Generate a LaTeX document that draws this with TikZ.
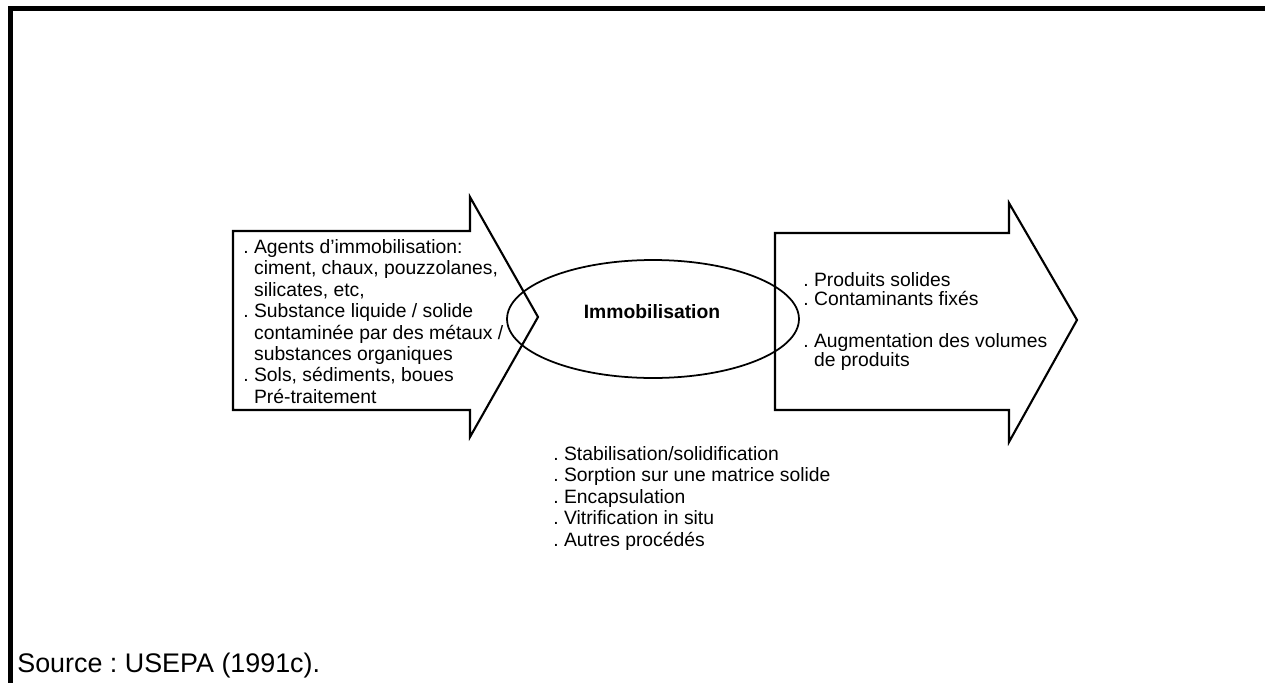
\documentclass[tikz,border=0pt]{standalone}
\usepackage{fontspec}
\setmainfont{Liberation Sans}
\usetikzlibrary{positioning, shapes.geometric, calc}
\frenchspacing

% sangría para las líneas que siguen a un punto
\newcommand{\sangria}{\phantom{.}\ }

\begin{document}
\begin{tikzpicture}[
    % Escala en píxeles (eje y hacia abajo)
    x=0.02cm, y=-0.02cm,
    % Estilo del marco
    marco/.style = {draw, line width=2.6pt},
    % Estilo de las flechas grandes
    bigarrow/.style = {draw, line width=1.2pt, line join=miter},
    % Estilo del proceso central (elipse)
    proceso/.style = {
        ellipse,
        draw,
        line width=1pt,
        minimum width=5.84cm,
        minimum height=2.36cm,
        inner sep=0pt
    },
    % Estilo de las listas de texto
    lista/.style = {
        align=left,
        inner sep=0pt,
        anchor=north west,
        font=\fontsize{11}{12.2}\selectfont
    }
]

    \useasboundingbox (0,0) rectangle (1265,683);

    % --- MARCO ---
    \draw [marco] (10.5,683) -- (10.5,8.5) -- (1265,8.5);

    % --- FLECHAS ---
    % Entrada (izquierda)
    \draw [bigarrow] (233,231) -- (470,231) -- (470,197) -- (538,317)
        -- (470,437) -- (470,410) -- (233,410) -- cycle;
    % Salida (derecha)
    \draw [bigarrow] (775,233) -- (1009,233) -- (1009,203) -- (1077,320)
        -- (1009,442) -- (1009,410) -- (775,410) -- cycle;

    % --- NODOS ---
    % Proceso central
    \node [proceso] (immo) at (653,319) {};
    \node [font=\fontsize{11}{13}\selectfont\bfseries] (titulo) at ($(immo.center)+(-1,-7)$) {Immobilisation};

    % Entradas
    \node [lista] (entradas) at (243,239) {%
        . Agents d'immobilisation:\\
        \sangria ciment, chaux, pouzzolanes,\\
        \sangria silicates, etc,\\
        . Substance liquide / solide\\
        \sangria contaminée par des métaux /\\
        \sangria substances organiques\\
        . Sols, sédiments, boues\\
        \sangria Pré-traitement};

    % Salidas
    \node [lista, font=\fontsize{11}{10.8}\selectfont] (salidas) at (803,272) {%
        . Produits solides\\
        . Contaminants fixés\\[0.46cm]
        . Augmentation des volumes\\
        \sangria de produits};

    % Procedimientos (debajo de la elipse)
    \node [lista] (procedes) at (553,446) {%
        . Stabilisation/solidification\\
        . Sorption sur une matrice solide\\
        . Encapsulation\\
        . Vitrification in situ\\
        . Autres procédés};

    % Fuente
    \node [anchor=base west, inner sep=0pt, font=\fontsize{15.3}{17}\selectfont] (fuente) at (17,672) {Source : USEPA (1991c).};

\end{tikzpicture}
\end{document}
